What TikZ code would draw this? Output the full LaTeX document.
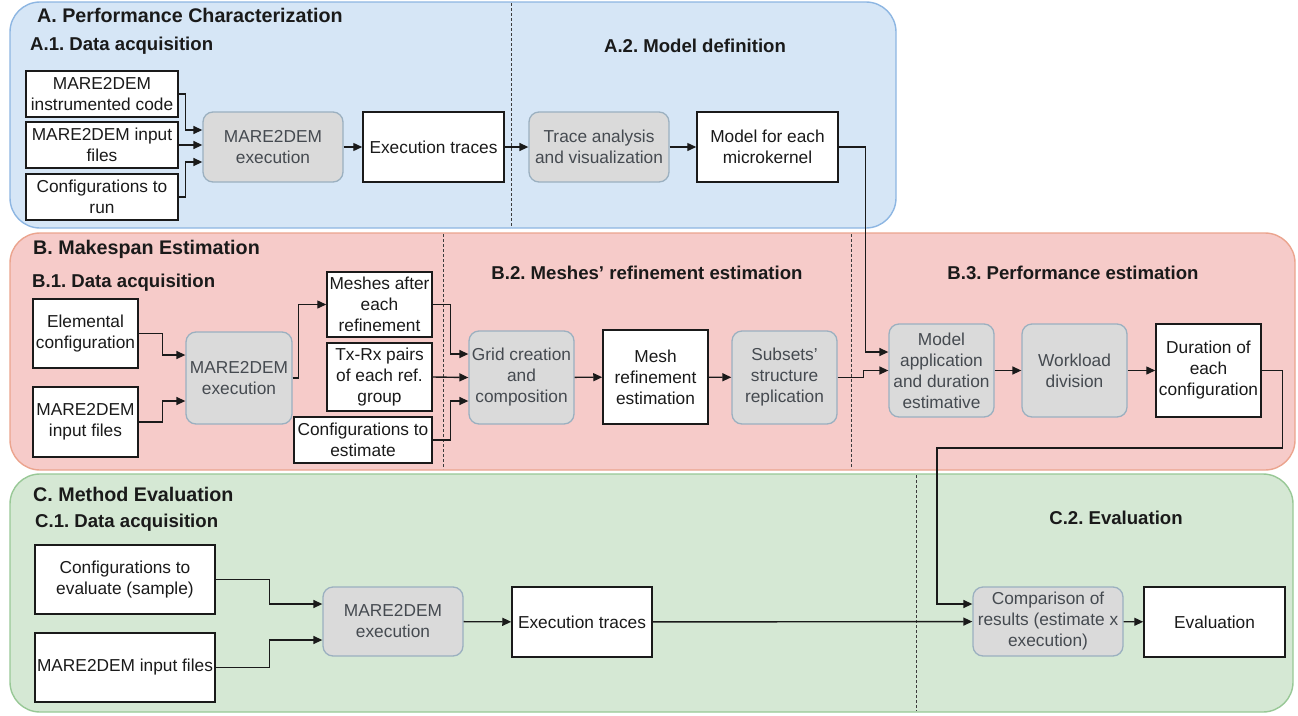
\documentclass[tikz,border=0pt]{standalone}
\usepackage{fontspec}
\setmainfont{Liberation Sans}
\usetikzlibrary{arrows.meta,calc}
\definecolor{pAfill}{HTML}{D6E6F6}
\definecolor{pAline}{HTML}{8DB6E2}
\definecolor{pBfill}{HTML}{F6CBC9}
\definecolor{pBline}{HTML}{EBA48E}
\definecolor{pCfill}{HTML}{D5E8D4}
\definecolor{pCline}{HTML}{98C896}
\definecolor{gfill}{HTML}{DADADA}
\definecolor{gline}{HTML}{9BB0C0}
\definecolor{gtext}{HTML}{454A50}
\definecolor{ink}{HTML}{1A1A1A}
\newcommand\bxf{\fontsize{17.3}{21}\selectfont}
\newcommand\ttlf{\fontsize{19.7}{23}\selectfont\bfseries}
\newcommand\sbtf{\fontsize{18.6}{22}\selectfont\bfseries}
\frenchspacing
\begin{document}
\begin{tikzpicture}[x=1pt,y=-1pt,
  panel/.style={line width=1.4pt, rounded corners=30pt},
  wbox/.style={draw=ink, line width=1.5pt, fill=white, align=center, inner sep=0pt, text=ink, font=\bxf},
  gbox/.style={draw=gline, line width=1.3pt, fill=gfill, rounded corners=10pt, align=center, inner sep=0pt, text=gtext, font=\bxf},
  ttl/.style={font=\ttlf, text=ink, inner sep=0pt},
  sbt/.style={font=\sbtf, text=ink, inner sep=0pt},
  sepline/.style={draw=ink!85, line width=1pt, dash pattern=on 3pt off 2pt},
  arr/.style={draw=ink, line width=1.4pt, -{Triangle[length=9pt,width=8pt]}}
]
\useasboundingbox (0,0) rectangle (1298,715);

% panels
\draw[panel, fill=pAfill, draw=pAline] (10,2) rectangle (896,228);
\draw[panel, fill=pBfill, draw=pBline] (10,233) rectangle (1295,470);
\draw[panel, fill=pCfill, draw=pCline] (10,474) rectangle (1293,712);

% separators
\draw[sepline] (511,3) -- (511,227);
\draw[sepline] (443,234) -- (443,469);
\draw[sepline] (851,234) -- (851,469);
\draw[sepline] (916,475) -- (916,711);

% titles
\node[ttl, anchor=west] (tA) at (37,15) {A. Performance Characterization};
\node[sbt, anchor=west] (tA1) at (30,46) {A.1. Data acquisition};
\node[sbt] (tA2) at (695,46) {A.2. Model definition};
\node[ttl, anchor=west] (tB) at (33,249) {B. Makespan Estimation};
\node[sbt, anchor=west] (tB1) at (32,283) {B.1. Data acquisition};
\node[sbt] (tB2) at (647,273) {B.2. Meshes' refinement estimation};
\node[sbt] (tB3) at (1073,273) {B.3. Performance estimation};
\node[ttl, anchor=west] (tC) at (33,494) {C. Method Evaluation};
\node[sbt, anchor=west] (tC1) at (35,523) {C.1. Data acquisition};
\node[sbt] (tC2) at (1116,518) {C.2. Evaluation};

% panel A nodes
\node[wbox, minimum width=152, minimum height=46] (a1) at (102,94) {MARE2DEM\\instrumented code};
\node[wbox, minimum width=152, minimum height=46] (a2) at (102,145) {MARE2DEM input\\files};
\node[wbox, minimum width=152, minimum height=46] (a3) at (102,197) {Configurations to\\run};
\node[gbox, minimum width=140, minimum height=70] (a4) at (273,147) {MARE2DEM\\execution};
\node[wbox, minimum width=141, minimum height=70] (a5) at (433.5,147) {Execution traces};
\node[gbox, minimum width=140, minimum height=70] (a6) at (599,147) {Trace analysis\\and visualization};
\node[wbox, minimum width=141, minimum height=70] (a7) at (767.5,147) {Model for each\\microkernel};

% panel B nodes
\node[wbox, minimum width=105, minimum height=69] (b1) at (85.5,333.5) {Elemental\\configuration};
\node[wbox, minimum width=105, minimum height=70] (b2) at (85.5,422) {MARE2DEM\\input files};
\node[gbox, minimum width=106, minimum height=92] (b3) at (239,378) {MARE2DEM\\execution};
\node[wbox, minimum width=105, minimum height=65] (b4) at (379.5,304.5) {Meshes after\\each\\refinement};
\node[wbox, minimum width=105, minimum height=68] (b5) at (379.5,377) {Tx-Rx pairs\\of each ref.\\group};
\node[wbox, minimum width=138, minimum height=46] (b6) at (363,440) {Configurations to\\estimate};
\node[gbox, minimum width=105, minimum height=93] (b7) at (521.5,377.5) {Grid creation\\and\\composition};
\node[wbox, minimum width=105, minimum height=94] (b8) at (655.5,377) {Mesh\\refinement\\estimation};
\node[gbox, minimum width=105, minimum height=93] (b9) at (784.5,377.5) {Subsets'\\structure\\replication};
\node[gbox, minimum width=105, minimum height=93] (b10) at (941.5,370.5) {Model\\application\\and duration\\estimative};
\node[gbox, minimum width=105, minimum height=93] (b11) at (1074.5,370.5) {Workload\\division};
\node[wbox, minimum width=105, minimum height=93] (b12) at (1208.5,370.5) {Duration of\\each\\configuration};

% panel C nodes
\node[wbox, minimum width=180, minimum height=69] (c1) at (125,579.5) {Configurations to\\evaluate (sample)};
\node[wbox, minimum width=180, minimum height=69] (c2) at (125,667.5) {MARE2DEM input files};
\node[gbox, minimum width=140, minimum height=69] (c3) at (393,621.5) {MARE2DEM\\execution};
\node[wbox, minimum width=140, minimum height=70] (c4) at (582,622) {Execution traces};
\node[gbox, minimum width=150, minimum height=69] (c5) at (1048,621.5) {Comparison of\\results (estimate x\\execution)};
\node[wbox, minimum width=141, minimum height=70] (c6) at (1214.5,622) {Evaluation};

% arrows A
\draw[arr] (a1.east) -- ++(7,0) |- ($(a4.west)+(0,-17)$);
\draw[arr] (a2.east) -- (a2.east -| a4.west);
\draw[arr] (a3.east) -- ++(7,0) |- ($(a4.west)+(0,15)$);
\draw[arr] (a4) -- (a5);
\draw[arr] (a5) -- (a6);
\draw[arr] (a6) -- (a7);
\draw[arr] (a7.east) -| ($(b10.west)+(-23,-18.5)$) -- ($(b10.west)+(0,-18.5)$);

% arrows B
\draw[arr] (b1.east) -- ++(24,0) |- ($(b3.west)+(0,-23)$);
\draw[arr] (b2.east) -- ++(24,0) |- ($(b3.west)+(0,23)$);
\draw[arr] (b3.east) -- ++(6,0) |- (b4.west);
\draw[arr] (b4.east) -- ++(18,0) |- ($(b7.west)+(0,-23.5)$);
\draw[arr] (b5.east) -- (b7.west);
\draw[arr] (b6.east) -- ++(18,0) |- ($(b7.west)+(0,23.5)$);
\draw[arr] (b7) -- (b8);
\draw[arr] (b8) -- (b9);
\draw[arr] (b9.east) -- ++(26,0) |- (b10.west);
\draw[arr] (b10) -- (b11);
\draw[arr] (b11) -- (b12);
\draw[arr] (b12.east) -- ++(21,0) |- (937,448) |- ($(c5.west)+(0,-17.5)$);

% arrows C
\draw[arr] (c1.east) -- ++(54,0) |- ($(c3.west)+(0,-17.5)$);
\draw[arr] (c2.east) -- ++(54,0) |- ($(c3.west)+(0,18.5)$);
\draw[arr] (c3) -- (c4);
\draw[arr] (c4) -- (c5);
\draw[arr] (c5) -- (c6);
\end{tikzpicture}
\end{document}
